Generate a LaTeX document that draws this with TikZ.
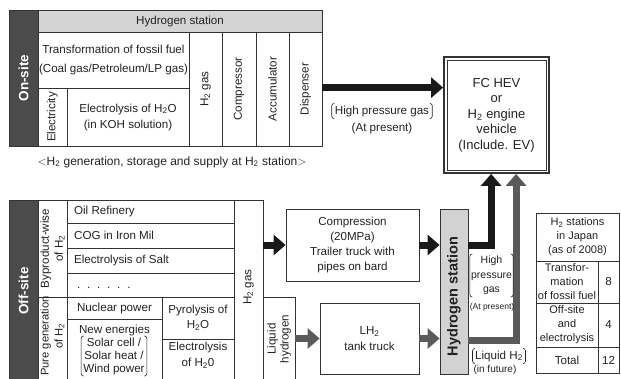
\documentclass[tikz,border=0pt]{standalone}
\usepackage{fontspec}
\setmainfont{Liberation Sans}
\usetikzlibrary{arrows.meta}

\definecolor{txt}{HTML}{222222}
\definecolor{rule}{HTML}{333333}
\definecolor{darkbar}{HTML}{4B4B4B}
\definecolor{hdrfill}{HTML}{D4D4D4}
\definecolor{stnfill}{HTML}{D2D2D2}
\definecolor{grayarrow}{HTML}{5A5A5A}

\newcommand\Hii{H\textsubscript{2}}
% rectangular cell given by its corners (x1,y1) and (x2,y2)
\newcommand\cell[7][]{%
  \node[cellbox,#1,minimum width={(#4-#2)*1pt},minimum height={(#5-#3)*1pt}]
    (#6) at ({(#2+#4)/2},{(#3+#5)/2}) {#7};}
% rounded brackets on both sides of a node
\newcommand\brackets[1]{%
  \draw[bracket] ([xshift=2.5pt]#1.north west) -- (#1.north west) -- (#1.south west) -- ([xshift=2.5pt]#1.south west);
  \draw[bracket] ([xshift=-2.5pt]#1.north east) -- (#1.north east) -- (#1.south east) -- ([xshift=-2.5pt]#1.south east);}

\tikzset{
  every node/.style={text=txt, font=\fontsize{11.6}{14}\selectfont},
  cellbox/.style={draw=rule, line width=0.8pt, rectangle, inner sep=0pt, align=center},
  vtext/.style={rotate=90, align=center},
  bartext/.style={rotate=90, text=white, font=\fontsize{13.5}{16}\selectfont\bfseries},
  bracket/.style={draw=txt, line width=0.6pt, rounded corners=2.5pt},
  blackarrow/.style={draw=black!90, line width=7pt, line join=miter,
    -{Triangle[length=12pt,width=20pt]}},
  grayarrow/.style={draw=grayarrow, line width=7pt, line join=miter,
    -{Triangle[length=12pt,width=20pt]}},
}

\begin{document}
\begin{tikzpicture}[x=1pt,y=-1pt]
\useasboundingbox (0,0) rectangle (621,378);
\clip (0,0) rectangle (621,378);

% ---------- on-site station ----------
\cell[fill=darkbar]{9}{10}{38}{146}{onbar}{}
\node[bartext] at (onbar) {On-site};
\cell[fill=hdrfill]{38}{10}{322}{32}{hdr}{Hydrogen station}
\cell[font=\fontsize{11.6}{19}\selectfont]{38}{32}{189}{88}{trans}{Transformation of fossil fuel\\(Coal gas/Petroleum/LP gas)}
\cell{38}{88}{67}{146}{elec}{}
\node[vtext] at (elec) {Electricity};
\cell[font=\fontsize{11.6}{16}\selectfont]{67}{88}{189}{146}{elys}{Electrolysis of \Hii O\\(in KOH solution)}
\cell{189}{32}{222}{146}{hgas}{}
\node[vtext] at (hgas) {\Hii\ gas};
\cell{222}{32}{256}{146}{comp1}{}
\node[vtext] at (comp1) {Compressor};
\cell{256}{32}{289}{146}{accu}{}
\node[vtext] at (accu) {Accumulator};
\cell{289}{32}{322}{146}{disp}{}
\node[vtext] at (disp) {Dispenser};

\node[font=\fontsize{12}{14}\selectfont] (caption) at (172,162) {$<$\Hii\ generation, storage and supply at \Hii\ station$>$};

% ---------- vehicle ----------
\cell[line width=1.8pt, font=\fontsize{13}{15.5}\selectfont]{444}{57}{549}{173}{fc}{FC HEV\\or\\\Hii\ engine\\vehicle\\(Include. EV)}
\draw[rule, line width=0.7pt] ([shift={(4pt,-4pt)}]fc.north west) rectangle ([shift={(-3.5pt,4pt)}]fc.south east);

\draw[blackarrow] (disp.east |- elys.north) -- (fc.west |- elys.north);
\node[inner xsep=3pt, inner ysep=2pt] (hpg) at (382,111) {High pressure gas};
\brackets{hpg}
\node (atpres1) at (382,128) {(At present)};

% ---------- off-site supply ----------
\cell[fill=darkbar]{9}{200}{38}{382}{offbar}{}
\node[bartext] at (offbar) {Off-site};
\cell{38}{200}{67}{297}{byp}{}
\node[vtext] at (byp) {Byproduct-wise\\of \Hii};
\cell{67}{200}{234}{223}{oil}{}
\node[anchor=west] at ([xshift=4pt]oil.west) {Oil Refinery};
\cell{67}{223}{234}{248}{cog}{}
\node[anchor=west] at ([xshift=4pt]cog.west) {COG in Iron Mil};
\cell{67}{248}{234}{273}{salt}{}
\node[anchor=west] at ([xshift=4pt]salt.west) {Electrolysis of Salt};
\cell{67}{273}{234}{297}{dots}{}
\node[anchor=west] at ([shift={(7pt,-3pt)}]dots.west) {.\hspace{6.8pt}.\hspace{6.8pt}.\hspace{6.8pt}.\hspace{6.8pt}.\hspace{6.8pt}.};

\cell{38}{297}{67}{382}{pure}{}
\node[vtext, font=\fontsize{11.2}{14}\selectfont] at (52.5,336) {Pure generation\\of \Hii};
\cell{67}{297}{162}{319}{nuc}{Nuclear power}
\cell{67}{319}{162}{382}{newe}{}
\node (newtitle) at (114.5,330) {New energies};
\node[font=\fontsize{11.6}{13}\selectfont, align=center, inner xsep=2pt, inner ysep=1.5pt] (solar) at (114,356) {Solar cell /\\Solar heat /\\Wind power};
\brackets{solar}
\cell[font=\fontsize{11.6}{15}\selectfont]{162}{297}{234}{339}{pyro}{Pyrolysis of\\\Hii O}
\cell[font=\fontsize{11.6}{16}\selectfont]{162}{339}{234}{382}{elys2}{Electrolysis\\of \Hii 0\vphantom{p}\\[-3pt]}

\cell{234}{200}{263}{382}{hgas2}{}
\node[vtext] at (248.5,287) {\Hii\ gas};
\cell{263}{297}{295}{382}{liq}{}
\node[vtext, font=\fontsize{11.6}{13}\selectfont] at (279,339) {Liquid\\hydrogen};

\cell[font=\fontsize{11.6}{15}\selectfont]{286}{209}{419}{281}{comp}{Compression\\(20MPa)\\Trailer truck with\\pipes on bard}
\cell[font=\fontsize{11.6}{16}\selectfont]{320}{303}{419}{374}{lh2}{LH\textsubscript{2}\\tank truck}

\cell[fill=stnfill]{440}{209}{468}{374}{stn}{}
\node[vtext, font=\fontsize{14.5}{16}\selectfont\bfseries] at ([yshift=-5pt]stn.center) {Hydrogen station};

% flows
\draw[blackarrow] (hgas2.east |- comp.west) -- (comp.west);
\draw[blackarrow] (comp.east) -- (stn.west |- comp.east);
\draw[grayarrow] (liq.east |- lh2.west) -- (lh2.west);
\draw[grayarrow] (lh2.east) -- (stn.west |- lh2.east);
\draw[blackarrow] (stn.east |- comp.east) -| ([xshift=48pt]fc.south west);
\draw[grayarrow] ([yshift=-1.5pt]stn.east |- lh2.east) -| ([xshift=73pt]fc.south west);

\node[font=\fontsize{10.5}{14.5}\selectfont, align=center, inner xsep=1pt, inner ysep=2pt] (hpg2) at (491.5,275.5) {High\\pressure\\gas};
\brackets{hpg2}
\node[font=\fontsize{8.5}{10}\selectfont] (atpres2) at (492,307) {(At present)};
\node[inner xsep=2.5pt, inner ysep=2pt] (liqh2) at (499,356) {Liquid \Hii};
\brackets{liqh2}
\node[font=\fontsize{10}{12}\selectfont] (future) at (495,370) {(in future)};

% ---------- table ----------
\cell[font=\fontsize{11}{14}\selectfont]{536}{213}{619}{261}{th}{\Hii\ stations\\in Japan\\(as of 2008)}
\cell[font=\fontsize{11}{14}\selectfont]{536}{261}{598}{303}{t1}{Transfor-\\mation\\of fossil fuel}
\cell{598}{261}{619}{303}{t1n}{8}
\cell[font=\fontsize{11}{14}\selectfont]{536}{303}{598}{347}{t2}{Off-site\\and\\electrolysis}
\cell{598}{303}{619}{347}{t2n}{4}
\cell{536}{347}{598}{373}{t3}{Total}
\cell{598}{347}{619}{373}{t3n}{12}
\end{tikzpicture}
\end{document}
